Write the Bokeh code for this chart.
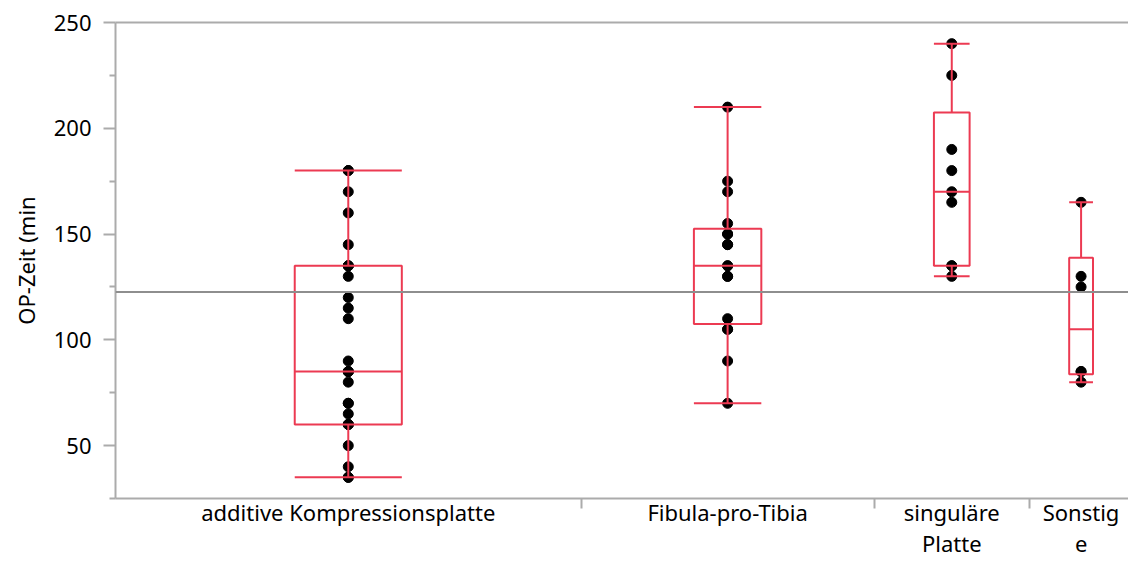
import math
from bokeh.plotting import figure
from bokeh.models import Range1d, FixedTicker, Span, LinearAxis
from bokeh.embed import file_html
from bokeh.resources import INLINE

# ---- data ----
categories = ["additive Kompressionsplatte", "Fibula-pro-Tibia", "singuläre Platte", "Sonstige"]
tick_labels = ["additive Kompressionsplatte", "Fibula-pro-Tibia", "singuläre\nPlatte", "Sonstig\ne"]
op_additive = [35, 35, 40, 50, 60, 60, 60, 65, 70, 70, 80, 85, 85, 85,
               90, 110, 115, 120, 130, 135, 135, 135, 145, 160, 170, 180, 180]
op_fibula = [70, 90, 105, 105, 110, 130, 130, 135, 135, 145, 145, 150, 150,
             155, 170, 175, 210]
op_singulaer = [130, 135, 135, 165, 170, 180, 190, 225, 240]
op_sonstige = [80, 85, 85, 125, 130, 165]
groups = [op_additive, op_fibula, op_singulaer, op_sonstige]
y_ticks = [50, 100, 150, 200, 250]
y_minor = [25, 75, 125, 175, 225]

RED = "#EC3A52"
GRAY_AX = "#ABABAB"
FONT = "Noto Sans"


def quantile(vals, p):
    s = sorted(vals)
    n = len(s)
    h = p * (n + 1)
    lo = int(math.floor(h))
    fr = h - lo
    if lo < 1:
        return s[0]
    if lo >= n:
        return s[-1]
    return s[lo - 1] + fr * (s[lo] - s[lo - 1])


ns = [len(g) for g in groups]
bounds = [0]
for n in ns:
    bounds.append(bounds[-1] + n)
centers = [(bounds[i] + bounds[i + 1]) / 2 for i in range(len(groups))]

p = figure(width=1128, height=561, output_backend="svg", toolbar_location=None,
           x_range=Range1d(0, bounds[-1] - 0.25), y_range=Range1d(25, 250),
           x_axis_location=None, y_axis_location=None,
           min_border_left=115, min_border_right=0, min_border_top=22, min_border_bottom=61)
p.xgrid.visible = False
p.ygrid.visible = False
p.outline_line_color = None
p.background_fill_color = "white"
p.border_fill_color = "white"

# top frame line
top = LinearAxis(ticker=FixedTicker(ticks=[]), axis_line_color=GRAY_AX, axis_line_width=2,
                 major_tick_out=0, major_tick_in=0, minor_tick_out=0, minor_tick_in=0)
p.add_layout(top, "above")

# grand mean line
all_vals = [v for g in groups for v in g]
mean_all = sum(all_vals) / len(all_vals)
p.add_layout(Span(location=mean_all, dimension="width", line_color="#8E8E8E", line_width=2))

# points
for c, g in zip(centers, groups):
    p.scatter(x=[c] * len(g), y=g, size=10, color="black")

# boxes
for c, g, n in zip(centers, groups, ns):
    q1 = quantile(g, 0.25)
    q2 = quantile(g, 0.5)
    q3 = quantile(g, 0.75)
    iqr = q3 - q1
    hi = max(v for v in g if v <= q3 + 1.5 * iqr)
    lo = min(v for v in g if v >= q1 - 1.5 * iqr)
    hw = 0.115 * n
    p.quad(left=[c - hw], right=[c + hw], bottom=[q1], top=[q3],
           fill_color=None, line_color=RED, line_width=2)
    p.segment(x0=[c - hw, c, c, c - hw, c - hw], x1=[c + hw, c, c, c + hw, c + hw],
              y0=[q2, q3, q1, hi, lo], y1=[q2, hi, lo, hi, lo],
              line_color=RED, line_width=2)

# y axis
ya = LinearAxis(ticker=FixedTicker(ticks=y_ticks, minor_ticks=y_minor))
ya.axis_line_color = GRAY_AX
ya.axis_line_width = 2
ya.major_tick_line_color = GRAY_AX
ya.major_tick_line_width = 2
ya.minor_tick_line_color = GRAY_AX
ya.minor_tick_line_width = 2
ya.major_tick_in = 0
ya.major_tick_out = 12
ya.minor_tick_in = 0
ya.minor_tick_out = 6
ya.major_label_text_font = FONT
ya.major_label_text_font_size = "22px"
ya.major_label_text_color = "black"
ya.major_label_standoff = 12
ya.axis_label = "OP-Zeit (min"
ya.axis_label_text_font = FONT
ya.axis_label_text_font_size = "22px"
ya.axis_label_text_font_style = "normal"
ya.axis_label_text_color = "black"
ya.axis_label_standoff = 10
p.add_layout(ya, "left")

# x axis: separators between groups as minor ticks, labels at group centres
xa = LinearAxis(ticker=FixedTicker(ticks=centers, minor_ticks=bounds[1:-1]))
xa.major_label_overrides = {c: t for c, t in zip(centers, tick_labels)}
xa.axis_line_color = GRAY_AX
xa.axis_line_width = 2
xa.major_tick_in = 0
xa.major_tick_out = 0
xa.minor_tick_in = 0
xa.minor_tick_out = 10
xa.minor_tick_line_color = GRAY_AX
xa.minor_tick_line_width = 2
xa.major_label_text_font = FONT
xa.major_label_text_font_size = "22px"
xa.major_label_text_color = "black"
xa.major_label_text_line_height = 1.05
xa.major_label_standoff = -12
p.add_layout(xa, "below")

open("out.html", "w").write(file_html(p, INLINE))
